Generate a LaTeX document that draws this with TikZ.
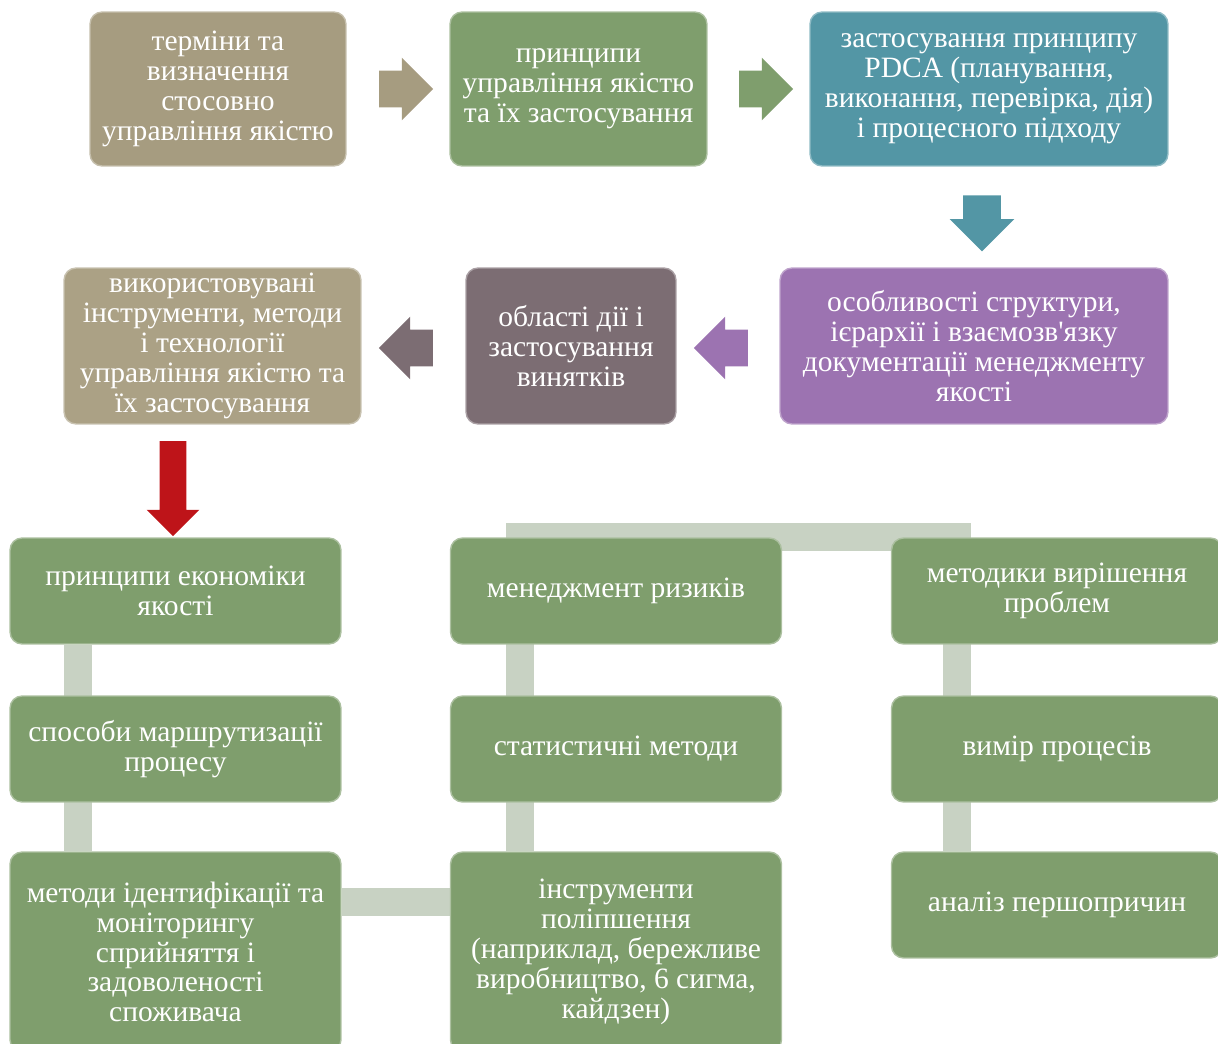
\documentclass[tikz,border=0pt]{standalone}
\usepackage{fontspec}
\setmainfont{Liberation Serif}[Ligatures=TeXOff]
\usetikzlibrary{shapes.arrows,backgrounds}

\definecolor{tan}{HTML}{A69C80}
\definecolor{tanlight}{HTML}{ABA185}
\definecolor{grn}{HTML}{7F9E6D}
\definecolor{teal}{HTML}{5396A5}
\definecolor{purp}{HTML}{9C73B1}
\definecolor{mauve}{HTML}{7C6D73}
\definecolor{barcol}{HTML}{C8D2C3}
\definecolor{redarr}{HTML}{BE1419}

\tikzset{
  box/.style={rectangle,rounded corners=0.24cm,fill=#1,draw=white!35!#1,line width=0.8pt,
    text=white,align=center,inner sep=2pt,font=\fontsize{16.8pt}{17pt}\selectfont},
  blkarrow/.style={single arrow,draw=none,fill=#1,inner xsep=0pt,inner ysep=0.36cm,
    minimum height=1.08cm,single arrow head extend=0.26cm},
  blkdown/.style={single arrow,draw=none,fill=#1,shape border rotate=270,inner ysep=0pt,
    inner xsep=0.37cm,minimum height=1.12cm,single arrow head extend=0.27cm},
  bar/.style={draw=barcol,line width=0.56cm,line join=miter},
}

\begin{document}
\begin{tikzpicture}[x=0.02cm,y=-0.02cm]
                \useasboundingbox(0,0)rectangle(1218,1044);
                % upper chain
                \node[box=tan,minimum width=5.12cm,minimum height=3.08cm](t1)at(218,89){терміни та\\визначення\\стосовно\\управління якістю};
                \node[box=grn,minimum width=5.14cm,minimum height=3.08cm](t2)at(578.5,89){принципи\\управління якістю\\та їх застосування};
                \node[box=teal,minimum width=7.16cm,minimum height=3.08cm](t3)at(989,89){застосування принципу\\PDCA (планування,\\виконання, перевірка, дія)\\і процесного підходу};
                \node[box=purp,minimum width=7.76cm,minimum height=3.12cm](t4)at(974,346){особливості структури,\\ієрархії і взаємозв'язку\\документації менеджменту\\якості};
                \node[box=mauve,minimum width=4.2cm,minimum height=3.12cm](t5)at(571,346){області дії і\\застосування\\винятків};
                \node[box=tanlight,minimum width=5.94cm,minimum height=3.12cm](t6)at(212.5,346){використовувані\\інструменти, методи\\і технології\\управління якістю та\\їх застосування};
                \node[blkarrow=tan](a1)at(397,89){};
                \node[blkarrow=grn](a2)at(757,89){};
                \node[blkdown=teal](a3)at(982,214){};
                \node[blkarrow=purp,shape border rotate=180](a4)at(730,348){};
                \node[blkarrow=mauve,shape border rotate=180](a5)at(415,348){};
                \node[blkdown=redarr,minimum height=1.9cm,inner xsep=0.26cm,single arrow head extend=0.26cm](a6)at(173,482){};
                % lower blocks
                \node[box=grn,minimum width=6.62cm,minimum height=2.12cm](k1)at(175.5,591){принципи економіки\\якості};
                \node[box=grn,minimum width=6.62cm,minimum height=2.12cm](k2)at(175.5,749){способи маршрутизації\\процесу};
                \node[box=grn,minimum width=6.62cm,minimum height=4cm](k3)at(175.5,952){методи ідентифікації та\\моніторингу\\сприйняття і\\задоволеності\\споживача};
                \node[box=grn,minimum width=6.62cm,minimum height=2.12cm](s1)at(616,591){менеджмент ризиків};
                \node[box=grn,minimum width=6.62cm,minimum height=2.12cm](s2)at(616,749){статистичні методи};
                \node[box=grn,minimum width=6.62cm,minimum height=4cm](s3)at(616,952){інструменти\\поліпшення\\(наприклад, бережливе\\виробництво, 6 сигма,\\кайдзен)};
                \node[box=grn,minimum width=6.62cm,minimum height=2.12cm](r1)at(1057,591){методики вирішення\\проблем};
                \node[box=grn,minimum width=6.62cm,minimum height=2.12cm](r2)at(1057,749){вимір процесів};
                \node[box=grn,minimum width=6.62cm,minimum height=2.12cm](r3)at(1057,905){аналіз першопричин};
                \begin{scope}[on background layer]
                \draw[bar]([xshift=-1.96cm]k1.south)--([xshift=-1.96cm]k3.north);
                \draw[bar]([yshift=1cm]k3.east)--([yshift=1cm]s3.west);
                \draw[bar]([xshift=-1.92cm]s3.north)--([xshift=-1.92cm]s1.north)--([xshift=-2cm]r1.north)--([xshift=-2cm]r3.north);
                \end{scope}
            \end{tikzpicture}
\end{document}
